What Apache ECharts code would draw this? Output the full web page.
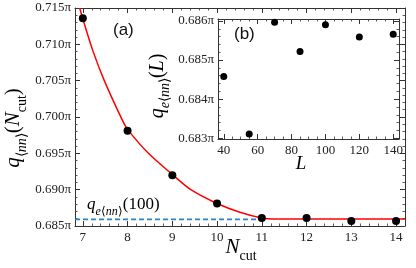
<!DOCTYPE html>
<html><head><meta charset="utf-8">
<script src="https://cdn.jsdelivr.net/npm/echarts@6/dist/echarts.min.js"></script>
<style>html,body{margin:0;padding:0;background:#fff}#c{width:416px;height:268px}</style>
</head><body><div id="c"></div>
<script>
// ---- data ----
const nCut = [7, 8, 9, 10, 11, 12, 13, 14];
const qNN = [0.7136, 0.6981, 0.6920, 0.6881, 0.6861, 0.6861, 0.6857, 0.6857];
const fitX = [6.93, 7.0, 7.225, 7.48, 7.88, 8.0, 8.466, 9.0, 9.414, 10.0, 10.51, 11.0, 11.25, 12.0, 14.2];
const fitY = [0.715, 0.7135, 0.7091, 0.7050, 0.6996, 0.6983, 0.6950, 0.6921, 0.6900, 0.6881, 0.6869, 0.6861, 0.68595, 0.68595, 0.68595];
const qE100 = 0.68590;
const dashX = [6.825, 11.0];
const mainXTicks = [7, 8, 9, 10, 11, 12, 13, 14];
const mainYTicks = [0.685, 0.690, 0.695, 0.700, 0.705, 0.710, 0.715];
const insetL = [40, 55, 70, 85, 100, 120, 140];
const insetQ = [0.68458, 0.68311, 0.68597, 0.68522, 0.68590, 0.68559, 0.68566];
const insetXTicks = [40, 60, 80, 100, 120, 140];
const insetYTicks = [0.683, 0.684, 0.685, 0.686];

// ---- helpers ----
function range(a, b, step, skip) {
  const out = [];
  for (let v = a; v <= b + 1e-9; v += step) {
    const r = Math.round(v / step) * step;
    if (!skip || !skip.some(s => Math.abs(s - r) < step / 10)) out.push(+r.toFixed(6));
  }
  return out;
}
const AX = '#333';
function axis(grid, pos, min, max, ticks, minors, labels, fmt) {
  const base = {
    type: 'value', gridIndex: grid, position: pos, min: min, max: max,
    axisLine: { show: true, onZero: false, lineStyle: { color: AX, width: 1 } },
    splitLine: { show: false },
    axisPointer: { show: false }
  };
  const major = Object.assign({}, base, {
    axisTick: { show: true, inside: true, length: 5, customValues: ticks, lineStyle: { color: AX, width: 1 } },
    axisLabel: {
      show: true, customValues: ticks, formatter: labels ? fmt : () => '', color: '#222',
      fontFamily: 'Liberation Serif', fontSize: 13, margin: (pos === 'left') ? 4 : 5
    }
  });
  const minor = Object.assign({}, base, {
    axisLine: { show: false },
    axisTick: { show: true, inside: true, length: 2.5, customValues: minors, lineStyle: { color: AX, width: 0.8 } },
    axisLabel: { show: true, customValues: minors, formatter: () => '' }
  });
  return [major, minor];
}
const piFmt = v => (+v).toFixed(3) + 'π';
const intFmt = v => String(Math.round(v));

const mxMin = 6.825, mxMax = 14.2, myMin = 0.685, myMax = 0.715;
const ixMin = 36.6, ixMax = 143.4, iyMin = 0.68298, iyMax = 0.68605;

const mxMinor = range(7, 14, 0.2, mainXTicks);
const myMinor = range(0.685, 0.715, 0.001, mainYTicks);
const ixMinor = range(40, 140, 5, insetXTicks);
const iyMinor = range(0.683, 0.686, 0.0002, insetYTicks);

const xAxes = [].concat(
  axis(0, 'bottom', mxMin, mxMax, mainXTicks, mxMinor, true, intFmt),
  axis(0, 'top', mxMin, mxMax, mainXTicks, mxMinor, false),
  axis(1, 'bottom', ixMin, ixMax, insetXTicks, ixMinor, true, intFmt),
  axis(1, 'top', ixMin, ixMax, insetXTicks, ixMinor, false)
);
const yAxes = [].concat(
  axis(0, 'left', myMin, myMax, mainYTicks, myMinor, true, piFmt),
  axis(0, 'right', myMin, myMax, mainYTicks, myMinor, false),
  axis(1, 'left', iyMin, iyMax, insetYTicks, iyMinor, true, piFmt),
  axis(1, 'right', iyMin, iyMax, insetYTicks, iyMinor, false)
);

const serif = 'Liberation Serif';
function mathRich(size, color) {
  const sub = Math.round(size * 0.68);
  const pb = Math.round(size * 0.22);
  return {
    i: { fontFamily: serif, fontStyle: 'italic', fontSize: size, color: color, padding: [0, 0, pb, 0], verticalAlign: 'bottom' },
    r: { fontFamily: serif, fontSize: size, color: color, padding: [0, 0, pb, 0], verticalAlign: 'bottom' },
    si: { fontFamily: serif, fontStyle: 'italic', fontSize: sub, color: color, verticalAlign: 'bottom' },
    sr: { fontFamily: serif, fontSize: sub, color: color, verticalAlign: 'bottom' }
  };
}
const BLUE = '#2f80d0';

const option = {
  animation: false,
  backgroundColor: '#fff',
  grid: [
    { left: 75, right: 5, top: 7, bottom: 42, show: false },
    { left: 218, top: 19, width: 181, height: 120, show: false }
  ],
  xAxis: xAxes,
  yAxis: yAxes,
  series: [
    {
      type: 'line', xAxisIndex: 0, yAxisIndex: 0, name: 'dash',
      data: dashX.map(x => [x, qE100]), symbol: 'none',
      lineStyle: { color: BLUE, width: 1.8, type: [5, 3] }, z: 2
    },
    {
      type: 'line', xAxisIndex: 0, yAxisIndex: 0, name: 'fit',
      data: fitX.map((x, k) => [x, fitY[k]]), symbol: 'none', smooth: 0.3,
      lineStyle: { color: '#ff0000', width: 1.5 }, z: 3, clip: true
    },
    {
      type: 'scatter', xAxisIndex: 0, yAxisIndex: 0,
      data: nCut.map((x, k) => [x, qNN[k]]), symbolSize: 8,
      itemStyle: { color: '#000', opacity: 1 }, z: 4
    },
    {
      type: 'scatter', xAxisIndex: 4, yAxisIndex: 4,
      data: insetL.map((x, k) => [x, insetQ[k]]), symbolSize: 7,
      itemStyle: { color: '#000', opacity: 1 }, z: 6
    }
  ],
  graphic: [
    { type: 'text', left: 113, top: 22, style: { text: '(a)', font: '17px "Liberation Sans"', fill: '#111' } },
    { type: 'text', left: 234, top: 26, style: { text: '(b)', font: '17px "Liberation Sans"', fill: '#111' }, z: 10 },
    { type: 'text', x: 16, y: 128, rotation: Math.PI / 2,
      style: { text: '{i|q}{sr|⟨}{si|nn}{sr|⟩}{r|(}{i|N}{sr|cut}{r|)}', rich: mathRich(21, '#111'), align: 'center', verticalAlign: 'middle' } },
    { type: 'text', x: 241, y: 250,
      style: { text: '{i|N}{sr|cut}', rich: mathRich(21, '#111'), align: 'center', verticalAlign: 'middle' } },
    { type: 'text', x: 87, y: 207,
      style: { text: '{i|q}{si|e}{sr|⟨}{si|nn}{sr|⟩}{r|(100)}', rich: mathRich(17, BLUE), align: 'left', verticalAlign: 'middle' } },
    { type: 'text', x: 160, y: 86, rotation: Math.PI / 2, z: 10,
      style: { text: '{i|q}{si|e}{sr|⟨}{si|nn}{sr|⟩}{r|(}{i|L}{r|)}', rich: mathRich(20, '#111'), align: 'center', verticalAlign: 'middle' } },
    { type: 'text', x: 301, y: 166, z: 10,
      style: { text: '{i|L}', rich: mathRich(19, '#111'), align: 'center', verticalAlign: 'middle' } }
  ]
};
const chart = echarts.init(document.getElementById('c'), null, { renderer: 'canvas' });
chart.setOption(option);
</script>
</body></html>
